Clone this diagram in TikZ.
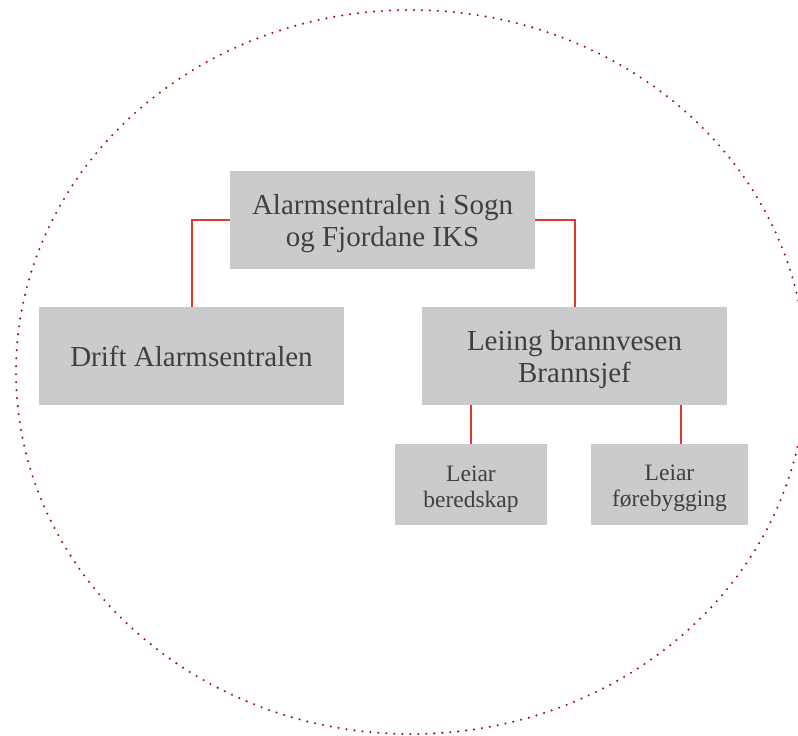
\documentclass[tikz,border=0pt]{standalone}
\usepackage{fontspec}
\setmainfont{Liberation Serif}
\usetikzlibrary{calc}
\definecolor{boxgray}{HTML}{CBCBCB}
\definecolor{txtgray}{HTML}{404040}
\definecolor{linkred}{HTML}{E03A2C}
\definecolor{ringred}{HTML}{A00C0C}
\newcommand{\firststrut}[1]{\rule{0pt}{#1}}
\tikzset{
  bigbox/.style={fill=boxgray, draw=none, minimum width=305pt, minimum height=98pt, inner sep=0pt, align=center, text=txtgray, font=\fontsize{29}{32}\selectfont},
  smallbox/.style={fill=boxgray, draw=none, minimum height=81pt, inner sep=0pt, align=center, text=txtgray, font=\fontsize{23.5}{26}\selectfont},
  link/.style={draw=linkred, line width=2pt},
  ring/.style={draw=ringred, line width=2.3pt, line cap=round, dash pattern=on 0pt off 8pt}
}
\begin{document}
\begin{tikzpicture}[x=1pt,y=-1pt]
\useasboundingbox (0,0) rectangle (798,736);
\path[ring] (411,372) ellipse [x radius=395pt, y radius=362pt];
\node[bigbox] (top) at (382.5,220) {\firststrut{28pt}Alarmsentralen i Sogn\\og Fjordane IKS};
\node[bigbox] (drift) at (191.5,356) {Drift Alarmsentralen};
\node[bigbox] (leiing) at (574.5,356) {\firststrut{28pt}Leiing brannvesen\\Brannsjef};
\node[smallbox, minimum width=152pt] (bered) at (471,484.5) {\firststrut{24pt}Leiar\\beredskap};
\node[smallbox, minimum width=157pt] (foreb) at (669.5,484.5) {\firststrut{24pt}Leiar\\førebygging};
\coordinate (fb) at ($(foreb.north)+(11,0)$);
\draw[link] (top.west) -| (drift.north);
\draw[link] (top.east) -| (leiing.north);
\draw[link] (bered.north) -- (bered.north |- leiing.south);
\draw[link] (fb) -- (fb |- leiing.south);
\end{tikzpicture}
\end{document}
